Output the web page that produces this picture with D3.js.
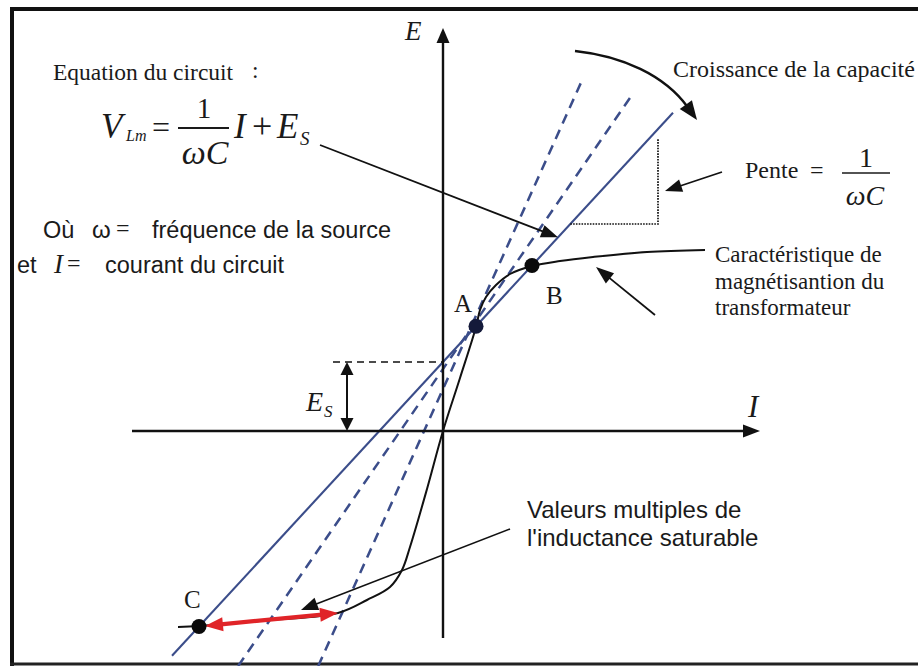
<!DOCTYPE html>
<html>
<head>
<meta charset="utf-8">
<script src="https://cdn.jsdelivr.net/npm/d3@7"></script>
<style>
  html, body { margin: 0; padding: 0; background: #fff; }
  svg { display: block; }
</style>
</head>
<body>
<svg id="fig" width="918" height="666"></svg>
<script>
// ---- Données (unités arbitraires : I en abscisse, E en ordonnée) ----

// Caractéristique de magnétisation du transformateur
const courbeI = [-2.65, -2.44, -1.73, -1.05, -0.76, -0.53, -0.41, -0.33, -0.16, 0, 0.17, 0.33, 0.37, 0.43, 0.53, 0.67, 0.89, 1.17, 1.50, 2.04, 2.62];
const courbeE = [-1.96, -1.95, -1.89, -1.82, -1.69, -1.56, -1.39, -1.16, -0.58, 0, 0.53, 1.04, 1.21, 1.34, 1.46, 1.57, 1.65, 1.70, 1.74, 1.79, 1.81];

// Droite du circuit : E = Es + I/(ωC)
const Es = 0.69;
const penteCircuit = 1.084;
const droiteI = [-2.71, 2.30];

// Droites pour d'autres capacités (pentes plus fortes)
const pentesTirets = [1.45, 2.22];
const originesTirets = [0.62, 0.42];
const tiretsE = [[-2.35, 3.37], [-2.35, 3.53]];

// Points de fonctionnement (sur la droite du circuit)
const pointsNoms = ["A", "B", "C"];
const pointsI = [0.33, 0.89, -2.44];

// Valeurs multiples : de C jusqu'à la droite la plus raide
const multiplesI = [-2.44, -1.05];
const multiplesE = [-1.955, -1.82];

// Triangle de pente
const penteTriE = [2.07, 2.93];
const penteTriI = 2.15;

// Étendue des axes
const axeI = [-3.11, 3.17];
const axeE = [-2.07, 4.03];

// ---- Échelles ----
const W = 918, H = 666;
const x = d3.scaleLinear().domain([-4.43, 4.75]).range([0, W]);
const y = d3.scaleLinear().domain([-2.35, 4.31]).range([H, 0]);

const svg = d3.select("#fig");
svg.append("rect").attr("width", W).attr("height", H).attr("fill", "#fff");

const BLEU = "#3b4d8a";
const NOIR = "#111";
const SERIF = "'Liberation Serif', 'Times New Roman', serif";
const SANS = "'Liberation Sans', Arial, sans-serif";

// Flèche simple à pointe triangulaire pleine
function fleche(g, x1, y1, x2, y2, o = {}) {
  const len = o.len || 16, wid = o.wid || 12, col = o.color || NOIR, sw = o.sw || 1.8;
  const dx = x2 - x1, dy = y2 - y1, L = Math.hypot(dx, dy), ux = dx / L, uy = dy / L;
  const bx = x2 - ux * len, by = y2 - uy * len;
  g.append("line")
    .attr("x1", x1).attr("y1", y1)
    .attr("x2", bx + ux * 2).attr("y2", by + uy * 2)
    .attr("stroke", col).attr("stroke-width", sw);
  g.append("path")
    .attr("d", `M${x2},${y2}L${bx - uy * wid / 2},${by + ux * wid / 2}L${bx + uy * wid / 2},${by - ux * wid / 2}Z`)
    .attr("fill", col);
}
function pointe(g, x2, y2, ux, uy, len, wid, col) {
  const bx = x2 - ux * len, by = y2 - uy * len;
  g.append("path")
    .attr("d", `M${x2},${y2}L${bx - uy * wid / 2},${by + ux * wid / 2}L${bx + uy * wid / 2},${by - ux * wid / 2}Z`)
    .attr("fill", col);
}
function doubleFleche(g, x1, y1, x2, y2, o = {}) {
  const len = o.len || 14, wid = o.wid || 12, col = o.color || NOIR, sw = o.sw || 2;
  const dx = x2 - x1, dy = y2 - y1, L = Math.hypot(dx, dy), ux = dx / L, uy = dy / L;
  g.append("line")
    .attr("x1", x1 + ux * (len - 2)).attr("y1", y1 + uy * (len - 2))
    .attr("x2", x2 - ux * (len - 2)).attr("y2", y2 - uy * (len - 2))
    .attr("stroke", col).attr("stroke-width", sw);
  pointe(g, x2, y2, ux, uy, len, wid, col);
  pointe(g, x1, y1, -ux, -uy, len, wid, col);
}
function texte(g, s, tx, ty, o = {}) {
  return g.append("text")
    .attr("x", tx).attr("y", ty)
    .attr("font-family", o.family || SERIF)
    .attr("font-size", o.size || 24)
    .attr("font-style", o.italic ? "italic" : "normal")
    .attr("text-anchor", o.anchor || "start")
    .attr("fill", o.color || "#1a1a1a")
    .text(s);
}

// ---- Cadre ----
svg.append("path").attr("d", `M12,${H}V9H${W}`)
  .attr("fill", "none").attr("stroke", NOIR).attr("stroke-width", 4);
svg.append("line").attr("x1", 10).attr("x2", W).attr("y1", 664).attr("y2", 664)
  .attr("stroke", "#222").attr("stroke-width", 3);

const gDroites = svg.append("g");
const gAxes = svg.append("g");
const gCourbe = svg.append("g");
const gAnnot = svg.append("g");

// ---- Axes (I horizontal, E vertical) ----
const ligne = d3.line().x(d => x(d[0])).y(d => y(d[1]));
gAxes.append("path").attr("d", ligne([[axeI[0], 0], [axeI[1] - 0.12, 0]]))
  .attr("stroke", NOIR).attr("stroke-width", 2.6).attr("fill", "none");
pointe(gAxes, x(axeI[1]), y(0), 1, 0, 17, 13, NOIR);
gAxes.append("path").attr("d", ligne([[0, axeE[0]], [0, axeE[1] - 0.12]]))
  .attr("stroke", NOIR).attr("stroke-width", 2.4).attr("fill", "none");
pointe(gAxes, x(0), y(axeE[1]), 0, -1, 15, 13, NOIR);
texte(gAxes, "E", x(0) - 38, y(axeE[1]) + 12, { italic: true, size: 27 });
texte(gAxes, "I", x(axeI[1]) - 12, y(0) - 14, { italic: true, size: 31 });

// ---- Droites en tirets (autres capacités) ----
pentesTirets.forEach((k, i) => {
  const e0 = tiretsE[i][0], e1 = tiretsE[i][1];
  const i0 = (e0 - originesTirets[i]) / k, i1 = (e1 - originesTirets[i]) / k;
  gDroites.append("path").attr("d", ligne([[i0, e0], [i1, e1]]))
    .attr("stroke", BLEU).attr("stroke-width", 2.5)
    .attr("stroke-dasharray", "10,7").attr("fill", "none");
});

// ---- Droite du circuit ----
gDroites.append("path")
  .attr("d", ligne(droiteI.map(v => [v, Es + penteCircuit * v])))
  .attr("stroke", BLEU).attr("stroke-width", 2.1).attr("fill", "none");

// ---- Triangle de pente (pointillés) ----
const iTri0 = (penteTriE[0] - Es) / penteCircuit;
gDroites.append("path")
  .attr("d", ligne([[iTri0, penteTriE[0]], [penteTriI, penteTriE[0]], [penteTriI, penteTriE[1]]]))
  .attr("stroke", NOIR).attr("stroke-width", 1.7).attr("stroke-dasharray", "1.6,1.2").attr("fill", "none");

// ---- Niveau Es ----
gDroites.append("path").attr("d", ligne([[-1.10, Es], [0, Es]]))
  .attr("stroke", NOIR).attr("stroke-width", 1.5).attr("stroke-dasharray", "7,5").attr("fill", "none");
doubleFleche(gAnnot, x(-0.96), y(Es), x(-0.96), y(0), { len: 13, wid: 13, sw: 2 });
texte(gAnnot, "E", x(-0.96) - 41, y(Es) + 49, { italic: true, size: 28 });
texte(gAnnot, "S", x(-0.96) - 23, y(Es) + 55, { italic: true, size: 17 });

// ---- Caractéristique de magnétisation ----
const courbe = d3.line().x(d => x(d[0])).y(d => y(d[1])).curve(d3.curveCatmullRom.alpha(0.5));
gCourbe.append("path")
  .attr("d", courbe(courbeI.map((v, i) => [v, courbeE[i]])))
  .attr("stroke", NOIR).attr("stroke-width", 2).attr("fill", "none");

// ---- Valeurs multiples (flèche rouge C -> droite la plus raide) ----
{
  const x1 = x(multiplesI[0]), y1 = y(multiplesE[0]);
  const x2 = x(multiplesI[1]), y2 = y(multiplesE[1]);
  const L = Math.hypot(x2 - x1, y2 - y1), ux = (x2 - x1) / L, uy = (y2 - y1) / L;
  doubleFleche(gCourbe, x1 + ux * 6, y1 + uy * 6, x2, y2, { len: 18, wid: 14, sw: 4.2, color: "#e02428" });
}

// ---- Points A, B, C ----
const pts = pointsI.map((v, i) => ({ nom: pointsNoms[i], I: v, E: Es + penteCircuit * v }));
gCourbe.selectAll("circle.pt").data(pts).join("circle")
  .attr("class", "pt")
  .attr("cx", d => x(d.I)).attr("cy", d => y(d.E))
  .attr("r", 7.5)
  .attr("fill", d => d.nom === "A" ? "#141a3a" : "#0a0a0a");
const decal = { A: [-22, -14], B: [14, 38], C: [-15, -18] };
pts.forEach(d => {
  texte(gCourbe, d.nom, x(d.I) + decal[d.nom][0], y(d.E) + decal[d.nom][1], { size: 25 });
});

// ---- Équation du circuit ----
texte(gAnnot, "Equation du circuit", 53, 80, { size: 23.5 });
texte(gAnnot, ":", 252, 78, { size: 23.5 });
texte(gAnnot, "V", 101, 138, { italic: true, size: 35 });
texte(gAnnot, "Lm", 126, 141, { italic: true, size: 16 });
texte(gAnnot, "=", 152, 138, { size: 32 });
texte(gAnnot, "1", 204, 118, { size: 29, anchor: "middle" });
gAnnot.append("line").attr("x1", 178).attr("x2", 229).attr("y1", 128).attr("y2", 128)
  .attr("stroke", "#1a1a1a").attr("stroke-width", 1.8);
texte(gAnnot, "ωC", 205, 164, { italic: true, size: 34, anchor: "middle" });
texte(gAnnot, "I", 234, 138, { italic: true, size: 35 });
texte(gAnnot, "+", 252, 138, { size: 36 });
texte(gAnnot, "E", 277, 138, { italic: true, size: 35 });
texte(gAnnot, "S", 300, 145, { italic: true, size: 19 });
fleche(gAnnot, 320, 145, x(1.15), y(Es + penteCircuit * 1.15), { len: 17, wid: 13, sw: 1.8 });

// ---- Légende des symboles ----
texte(gAnnot, "Où", 43, 238, { family: SANS, size: 23.5 });
texte(gAnnot, "ω", 92, 238, { family: SANS, size: 24 });
texte(gAnnot, "=", 116, 236, { size: 24 });
texte(gAnnot, "fréquence de la source", 152, 238, { family: SANS, size: 23.5 });
texte(gAnnot, "et", 17, 273, { family: SANS, size: 23.5 });
texte(gAnnot, "I", 54, 273, { italic: true, size: 27 });
texte(gAnnot, "=", 67, 271, { size: 24 });
texte(gAnnot, "courant du circuit", 105, 273, { family: SANS, size: 23.5 });

// ---- Croissance de la capacité ----
texte(gAnnot, "Croissance de la capacité", 673, 77, { size: 24 });
{
  const P0 = [575, 51], P1 = [622, 56], P2 = [668, 80], P3 = [697, 120];
  const tx = P3[0] - P2[0], ty = P3[1] - P2[1], L = Math.hypot(tx, ty), ux = tx / L, uy = ty / L;
  const len = 19;
  const E3 = [P3[0] - ux * (len - 3), P3[1] - uy * (len - 3)];
  const p = d3.path();
  p.moveTo(P0[0], P0[1]);
  p.bezierCurveTo(P1[0], P1[1], P2[0] - ux * 6, P2[1] - uy * 6, E3[0], E3[1]);
  gAnnot.append("path").attr("d", p.toString())
    .attr("stroke", NOIR).attr("stroke-width", 2.4).attr("fill", "none");
  pointe(gAnnot, P3[0], P3[1], ux, uy, len, 15, NOIR);
}

// ---- Pente = 1/(ωC) ----
texte(gAnnot, "Pente", 745, 178, { size: 24 });
texte(gAnnot, "=", 810, 178, { size: 24 });
texte(gAnnot, "1", 866, 167, { size: 28, anchor: "middle" });
gAnnot.append("line").attr("x1", 842).attr("x2", 890).attr("y1", 173).attr("y2", 173)
  .attr("stroke", "#1a1a1a").attr("stroke-width", 1.6);
texte(gAnnot, "ωC", 865, 205, { italic: true, size: 28, anchor: "middle" });
fleche(gAnnot, 722, 172, 665, 191, { len: 17, wid: 13, sw: 1.8 });

// ---- Caractéristique de magnétisation (légende) ----
texte(gAnnot, "Caractéristique de", 715, 262, { size: 23 });
texte(gAnnot, "magnétisantion du", 715, 289, { size: 23 });
texte(gAnnot, "transformateur", 715, 315, { size: 23 });
fleche(gAnnot, 655, 315, 596, 267, { len: 18, wid: 13, sw: 1.8 });

// ---- Valeurs multiples de l'inductance saturable ----
texte(gAnnot, "Valeurs multiples de", 527, 518, { family: SANS, size: 24 });
texte(gAnnot, "l'inductance saturable", 527, 546, { family: SANS, size: 24 });
fleche(gAnnot, 510, 529, 301, 610, { len: 17, wid: 13, sw: 1.6 });
</script>
</body>
</html>
